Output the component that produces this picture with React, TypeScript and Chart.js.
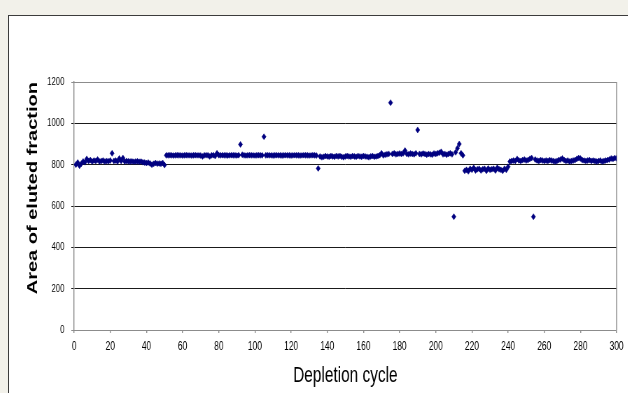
import React, { useEffect, useRef } from 'react';
import { Chart, registerables } from 'chart.js';

Chart.register(...registerables);

// Area of eluted fraction for depletion cycles 1..300
const areaValues: number[] = [
  800, 810, 795, 805, 815, 812, 828, 818, 822, 815,
  820, 818, 825, 815, 818, 820, 815, 818, 816, 820,
  855, 818, 820, 815, 830, 818, 832, 815, 818, 816,
  815, 816, 814, 815, 816, 814, 815, 812, 810, 808,
  810, 806, 800, 804, 808, 805, 806, 804, 808, 798,
  845, 845, 846, 845, 844, 845, 846, 845, 845, 844,
  845, 846, 845, 845, 844, 845, 846, 845, 845, 844,
  840, 845, 846, 845, 840, 845, 846, 842, 855, 846,
  845, 846, 845, 845, 844, 845, 846, 845, 845, 844,
  846, 898, 848, 845, 844, 845, 846, 845, 845, 844,
  845, 846, 845, 845, 935, 845, 846, 845, 845, 844,
  845, 846, 845, 845, 844, 845, 846, 845, 845, 844,
  845, 846, 845, 845, 844, 845, 846, 845, 845, 844,
  845, 846, 845, 844, 782, 840, 836, 838, 842, 840,
  838, 842, 840, 838, 842, 840, 842, 838, 836, 840,
  842, 840, 838, 842, 840, 838, 842, 840, 838, 842,
  840, 838, 836, 840, 842, 838, 840, 842, 846, 855,
  845, 848, 850, 852, 1100, 852, 855, 850, 852, 854,
  852, 855, 868, 852, 850, 854, 852, 850, 855, 968,
  852, 850, 854, 852, 848, 852, 850, 848, 854, 852,
  855, 858, 862, 850, 852, 848, 852, 855, 850, 548,
  860, 880, 900, 855, 845, 770, 775, 768, 780, 775,
  785, 772, 778, 780, 772, 778, 780, 770, 782, 775,
  778, 780, 772, 785, 778, 775, 770, 780, 775, 790,
  815, 818, 820, 818, 828, 820, 818, 822, 825, 820,
  822, 828, 832, 548, 825, 820, 818, 822, 820, 818,
  820, 818, 822, 820, 818, 815, 818, 822, 825, 830,
  822, 818, 820, 815, 818, 820, 822, 828, 832, 830,
  822, 820, 818, 820, 822, 818, 820, 818, 815, 818,
  820, 815, 818, 820, 822, 825, 830, 828, 832, 830,
];

// cycle number of each measurement (1-based position)
const cycles: number[] = areaValues.map((_, i) => i + 1);

const xTitle = 'Depletion cycle';
const yTitle = 'Area of eluted fraction';
const xMin = 0;
const xMax = 300;
const xStep = 20;
const yMin = 0;
const yMax = 1200;
const yStep = 200;

const SQUEEZE = 0.7;
const CANVAS_W = Math.round(619 / SQUEEZE);
const CANVAS_H = 377;

const framePlugin = {
  id: 'plotFrame',
  beforeDatasetsDraw(chart: any) {
    const { ctx, chartArea } = chart;
    ctx.save();
    ctx.strokeStyle = '#8c8c8c';
    ctx.lineWidth = 1;
    ctx.beginPath();
    ctx.moveTo(chartArea.left, chartArea.top + 0.5);
    ctx.lineTo(chartArea.right, chartArea.top + 0.5);
    ctx.stroke();
    ctx.lineWidth = 1 / SQUEEZE;
    ctx.beginPath();
    ctx.moveTo(chartArea.right, chartArea.top);
    ctx.lineTo(chartArea.right, chartArea.bottom);
    ctx.stroke();
    ctx.restore();
  },
};

export default function App() {
  const canvasRef = useRef<HTMLCanvasElement | null>(null);

  useEffect(() => {
    const canvas = canvasRef.current;
    if (!canvas) return;
    const chart = new Chart(canvas, {
      type: 'scatter',
      data: {
        datasets: [
          {
            label: 'Area',
            data: cycles.map((c, i) => ({ x: c, y: areaValues[i] })),
            pointStyle: 'rectRot',
            pointRadius: 3,
            pointBorderWidth: 0.6,
            backgroundColor: '#000080',
            borderColor: '#000080',
          },
        ],
      },
      options: {
        responsive: false,
        animation: false,
        devicePixelRatio: 1,
        layout: { padding: { left: 22, top: 66, right: 14, bottom: 0 } },
        plugins: {
          legend: { display: false },
          tooltip: { enabled: false },
        },
        scales: {
          x: {
            type: 'linear',
            min: xMin,
            max: xMax,
            afterFit: (scale: any) => {
              scale.height = 63;
            },
            ticks: {
              stepSize: xStep,
              color: '#000',
              padding: 6,
              maxRotation: 0,
              callback: (v: any) => String(v),
              font: { family: 'Liberation Sans, Arial, sans-serif', size: 12 },
            },
            grid: {
              drawOnChartArea: false,
              drawTicks: true,
              tickLength: 3,
              color: '#8c8c8c',
              lineWidth: 1 / SQUEEZE,
            },
            border: { display: true, color: '#8c8c8c', width: 1 },
            title: {
              display: true,
              text: xTitle,
              color: '#000',
              padding: { top: 0, bottom: 4 },
              font: { family: 'Liberation Sans, Arial, sans-serif', size: 22, weight: 'normal' },
            },
          },
          y: {
            type: 'linear',
            min: yMin,
            max: yMax,
            afterFit: (scale: any) => {
              scale.width = 71;
            },
            ticks: {
              stepSize: yStep,
              color: '#000',
              padding: 10,
              callback: (v: any) => String(v),
              font: { family: 'Liberation Sans, Arial, sans-serif', size: 11 },
            },
            grid: {
              drawTicks: true,
              tickLength: 4,
              color: (ctx: any) =>
                ctx.tick && (ctx.tick.value === yMin || ctx.tick.value === yMax) ? '#8c8c8c' : '#1a1a1a',
              lineWidth: 1,
            },
            border: { display: true, color: '#8c8c8c', width: 1 / SQUEEZE },
            title: {
              display: true,
              text: yTitle,
              align: 'end',
              color: '#000',
              padding: { top: 0, bottom: 0 },
              font: { family: 'Liberation Sans, Arial, sans-serif', size: 20, weight: 'bold' },
            },
          },
        },
      },
      plugins: [framePlugin],
    });
    return () => chart.destroy();
  }, []);

  return (
    <div
      style={{
        position: 'fixed',
        left: 0,
        top: 0,
        width: '100vw',
        height: '100vh',
        background: '#f2f1ea',
        overflow: 'hidden',
      }}
    >
      <div
        style={{
          position: 'absolute',
          left: 8,
          top: 15,
          width: 660,
          height: 420,
          border: '1px solid #3c3c3c',
          background: '#ffffff',
          overflow: 'hidden',
        }}
      >
        <canvas
          ref={canvasRef}
          width={CANVAS_W}
          height={CANVAS_H}
          style={{
            position: 'absolute',
            left: 0,
            top: 0,
            width: CANVAS_W,
            height: CANVAS_H,
            transform: `scaleX(${SQUEEZE})`,
            transformOrigin: '0 0',
          }}
        />
      </div>
    </div>
  );
}
